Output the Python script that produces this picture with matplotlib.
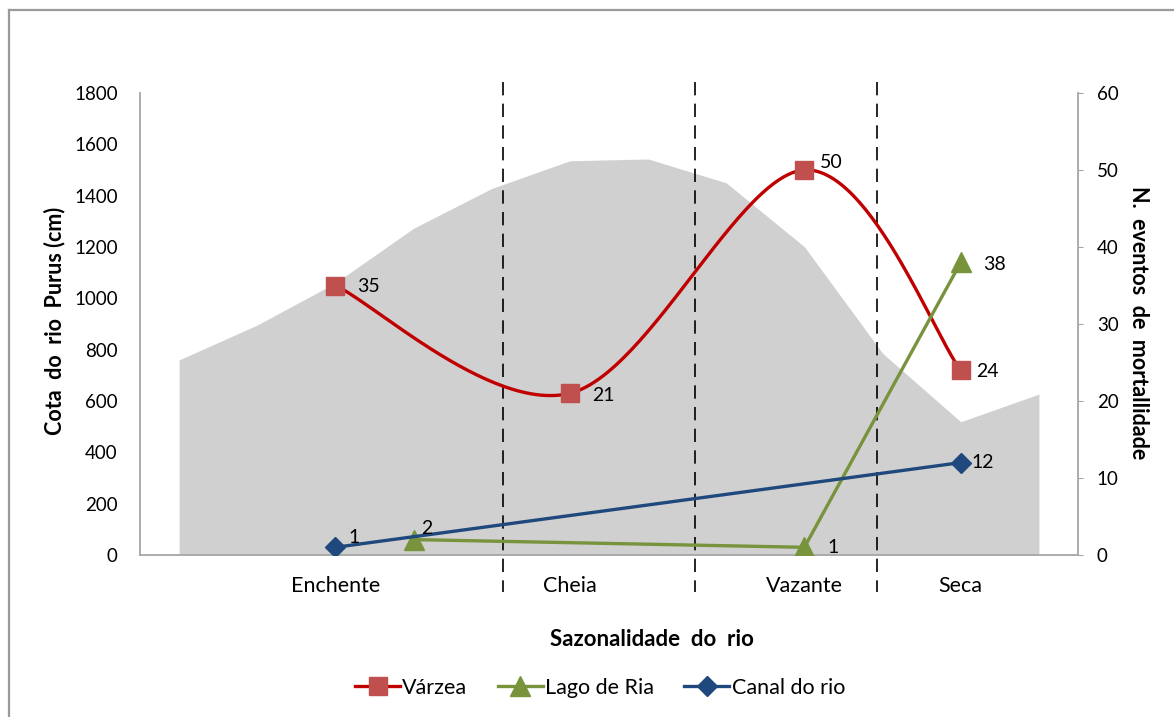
import numpy as np
import matplotlib
matplotlib.use("Agg")
import matplotlib.pyplot as plt
from matplotlib.lines import Line2D

# Monthly river level (cm) and mortality events per habitat
months = list(range(12))
cota_cm = [760, 896, 1060, 1273, 1428, 1536, 1543, 1450, 1201, 786, 519, 627]

season_labels = ["Enchente", "Cheia", "Vazante", "Seca"]
season_pos = [2, 5, 8, 10]

varzea_x = [2, 5, 8, 10]
varzea_y = [35, 21, 50, 24]

lago_x = [3, 8, 10]
lago_y = [2, 1, 38]

canal_x = [2, 10]
canal_y = [1, 12]

left_ticks = list(range(0, 1801, 200))
right_ticks = list(range(0, 61, 10))

plt.rcParams['font.family'] = ['Lato', 'DejaVu Sans']

W, H = 1174, 717
fig = plt.figure(figsize=(W / 100, H / 100), dpi=100)

TICK_FS = 13.5
TEXT_FS = 15.5
VAL_FS = 14

# outer frame (left and top edges)
frame_col = "#9a9a9a"
fig.add_artist(Line2D([9 / W, 9 / W], [0, 1 - 10 / H], color=frame_col, lw=1.6))
fig.add_artist(Line2D([9 / W, 1], [1 - 10 / H, 1 - 10 / H], color=frame_col, lw=1.6))

ax = fig.add_axes([140 / W, 1 - 555 / H, (1078 - 140) / W, (555 - 93) / H])
ax2 = ax.twinx()

spine_col = "#a6a6a6"
ax.fill_between(months, cota_cm, 0, color="#d0d0d0", lw=0, zorder=1)
ax.set_xlim(-0.5, 11.5)
ax.set_ylim(0, 1800)
ax.set_yticks(left_ticks)
ax.tick_params(axis="y", length=0, labelsize=TICK_FS, pad=16)
ax.set_xticks(season_pos)
ax.set_xticklabels(season_labels)
ax.tick_params(axis="x", length=0, labelsize=TEXT_FS, pad=15)
for s in ["top", "right"]:
    ax.spines[s].set_visible(False)
for s in ["left", "bottom"]:
    ax.spines[s].set_color(spine_col)
    ax.spines[s].set_linewidth(1.3)

# season boundaries
for xb in [4.14, 6.595, 8.93]:
    ax.plot([xb, xb], [1.024, -0.08], transform=ax.get_xaxis_transform(),
            color="black", lw=1.2, dashes=(8, 5), clip_on=False, zorder=3)

ax2.set_ylim(0, 60)
ax2.set_yticks(right_ticks)
ax2.tick_params(axis="y", length=3.6, color=spine_col, labelsize=TICK_FS, pad=10)
for s in ["top", "left", "bottom"]:
    ax2.spines[s].set_visible(False)
ax2.spines["right"].set_color(spine_col)
ax2.spines["right"].set_linewidth(1.3)


def smooth(xs, ys, n=60):
    pts = np.column_stack([xs, ys]).astype(float)
    out = []
    for i in range(len(pts) - 1):
        p0 = pts[i - 1] if i > 0 else pts[i]
        p1 = pts[i]
        p2 = pts[i + 1]
        p3 = pts[i + 2] if i + 2 < len(pts) else pts[i + 1]
        c1 = p1 + (p2 - p0) / 6
        c2 = p2 - (p3 - p1) / 6
        t = np.linspace(0, 1, n)[:, None]
        seg = ((1 - t) ** 3) * p1 + 3 * ((1 - t) ** 2) * t * c1 + 3 * (1 - t) * t ** 2 * c2 + t ** 3 * p2
        out.append(seg if i == 0 else seg[1:])
    c = np.vstack(out)
    return c[:, 0], c[:, 1]


red_line, red_mk = "#c00000", "#c0504d"
green = "#77933c"
blue = "#1f497d"

sx, sy = smooth(varzea_x, varzea_y)
ax2.plot(sx, sy, color=red_line, lw=2.4, zorder=4, solid_capstyle="round")
ax2.plot(varzea_x, varzea_y, ls="none", marker="s", ms=13, color=red_mk, zorder=5)

ax2.plot(lago_x, lago_y, color=green, lw=2.4, marker="^", ms=14, zorder=4)
ax2.plot(canal_x, canal_y, color=blue, lw=2.4, marker="D", ms=10.5, zorder=4)


# value labels
def lab(x, y, dx, dy):
    ax2.annotate(str(y), (x, y), xytext=(dx, dy), textcoords="offset pixels",
                 ha="left", va="center", fontsize=VAL_FS, zorder=6)


lab(varzea_x[0], varzea_y[0], 22, -1)
lab(varzea_x[1], varzea_y[1], 22, -2)
lab(varzea_x[2], varzea_y[2], 16, 8)
lab(varzea_x[3], varzea_y[3], 15, -1)
lab(lago_x[0], lago_y[0], 8, 11)
lab(lago_x[1], lago_y[1], 23, 0)
lab(lago_x[2], lago_y[2], 22, -2)
lab(canal_x[0], canal_y[0], 13, 10)
lab(canal_x[1], canal_y[1], 11, 0)

fig.text(55 / W, 1 - 321 / H, "Cota  do  rio  Purus (cm)", rotation=90,
         ha="center", va="center", fontsize=TEXT_FS, fontweight="bold")
fig.text(1138 / W, 1 - 323 / H, "N.  eventos  de  mortallidade", rotation=270,
         ha="center", va="center", fontsize=TEXT_FS, fontweight="bold")
fig.text(652 / W, 1 - 640 / H, "Sazonalidade  do  rio", ha="center", va="center",
         fontsize=16, fontweight="bold")

handles = [
    Line2D([], [], color=red_line, lw=2.4, marker="s", ms=13, mfc=red_mk, mec=red_mk),
    Line2D([], [], color=green, lw=2.4, marker="^", ms=14),
    Line2D([], [], color=blue, lw=2.4, marker="D", ms=10.5),
]
fig.legend(handles, ["Várzea", "Lago de Ria", "Canal do rio"], loc="center",
           bbox_to_anchor=(600 / W, 1 - 688 / H), ncol=3, frameon=False,
           fontsize=TEXT_FS, handlelength=2.1, handletextpad=0.1, columnspacing=1.4)

fig.savefig("out.png", dpi=100)
